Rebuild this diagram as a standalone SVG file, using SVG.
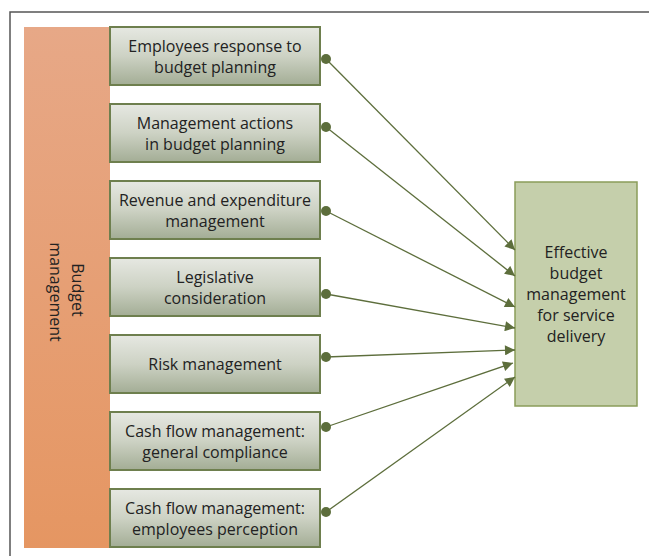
<svg xmlns="http://www.w3.org/2000/svg" width="649" height="556" viewBox="0 0 649 556">
  <defs>
    <linearGradient id="boxFill" x1="0" y1="0" x2="0" y2="1">
      <stop offset="0" stop-color="#e6e8e2"/>
      <stop offset="0.5" stop-color="#cdd2c4"/>
      <stop offset="1" stop-color="#a3ad95"/>
    </linearGradient>
    <linearGradient id="barFill" x1="0" y1="0" x2="0" y2="1">
      <stop offset="0" stop-color="#e7a887"/>
      <stop offset="1" stop-color="#e59662"/>
    </linearGradient>
    <marker id="arrow" viewBox="0 0 10 10" refX="10" refY="5" markerWidth="11" markerHeight="10" markerUnits="userSpaceOnUse" orient="auto">
      <path d="M0,0 L10,5 L0,10 Z" fill="#5d6e3c"/>
    </marker>
    <marker id="dot" viewBox="0 0 10 10" refX="5" refY="5" markerWidth="10" markerHeight="10" markerUnits="userSpaceOnUse">
      <circle cx="5" cy="5" r="5" fill="#5d6e3c"/>
    </marker>
  </defs>
  <style>
    .frame { fill: none; stroke: #555; stroke-width: 1.5; }
    .box { fill: url(#boxFill); stroke: #6e7f4e; stroke-width: 2; }
    .label { font-family: "Open Sans", "Noto Sans", sans-serif; font-size: 16px; fill: #222; text-anchor: middle; }
    .link { fill: none; stroke: #5d6e3c; stroke-width: 1.3; marker-start: url(#dot); marker-end: url(#arrow); }
  </style>

  <!-- page frame -->
  <path class="frame" d="M10,556 L10,12 L649,12"/>

  <!-- vertical category bar -->
  <g id="budget-management">
    <rect x="24" y="27" width="86" height="521" fill="url(#barFill)"/>
    <text class="label" transform="translate(67,292) rotate(90)">
      <tspan x="0" y="-5">Budget</tspan>
      <tspan x="0" y="17">management</tspan>
    </text>
  </g>

  <g id="employees-response">
    <rect class="box" x="110" y="27" width="210" height="58"/>
    <text class="label"><tspan x="215" y="52">Employees response to</tspan><tspan x="215" y="73">budget planning</tspan></text>
  </g>
  <g id="management-actions">
    <rect class="box" x="110" y="104" width="210" height="58"/>
    <text class="label"><tspan x="215" y="129">Management actions</tspan><tspan x="215" y="150">in budget planning</tspan></text>
  </g>
  <g id="revenue-expenditure">
    <rect class="box" x="110" y="181" width="210" height="58"/>
    <text class="label"><tspan x="215" y="206">Revenue and expenditure</tspan><tspan x="215" y="227">management</tspan></text>
  </g>
  <g id="legislative">
    <rect class="box" x="110" y="258" width="210" height="58"/>
    <text class="label"><tspan x="215" y="283">Legislative</tspan><tspan x="215" y="304">consideration</tspan></text>
  </g>
  <g id="risk">
    <rect class="box" x="110" y="335" width="210" height="58"/>
    <text class="label"><tspan x="215" y="370">Risk management</tspan></text>
  </g>
  <g id="cash-flow-compliance">
    <rect class="box" x="110" y="412" width="210" height="58"/>
    <text class="label"><tspan x="215" y="437">Cash flow management:</tspan><tspan x="215" y="458">general compliance</tspan></text>
  </g>
  <g id="cash-flow-perception">
    <rect class="box" x="110" y="489" width="210" height="58"/>
    <text class="label"><tspan x="215" y="514">Cash flow management:</tspan><tspan x="215" y="535">employees perception</tspan></text>
  </g>

  <g id="effective-budget">
    <rect x="515" y="182" width="122" height="224" fill="#c5cfab" stroke="#8a9d5a" stroke-width="1.5"/>
    <text class="label"><tspan x="576" y="258">Effective</tspan><tspan x="576" y="279">budget</tspan><tspan x="576" y="300">management</tspan><tspan x="576" y="321">for service</tspan><tspan x="576" y="342">delivery</tspan></text>
  </g>

  <!-- connectors -->
  <g id="connectors">
    <path class="link" d="M326,59 L515,250"/>
    <path class="link" d="M326,127 L515,276"/>
    <path class="link" d="M326,211 L515,307"/>
    <path class="link" d="M326,294 L515,328"/>
    <path class="link" d="M326,357 L515,350"/>
    <path class="link" d="M326,427 L513,363"/>
    <path class="link" d="M326,512 L515,377"/>
  </g>
</svg>
